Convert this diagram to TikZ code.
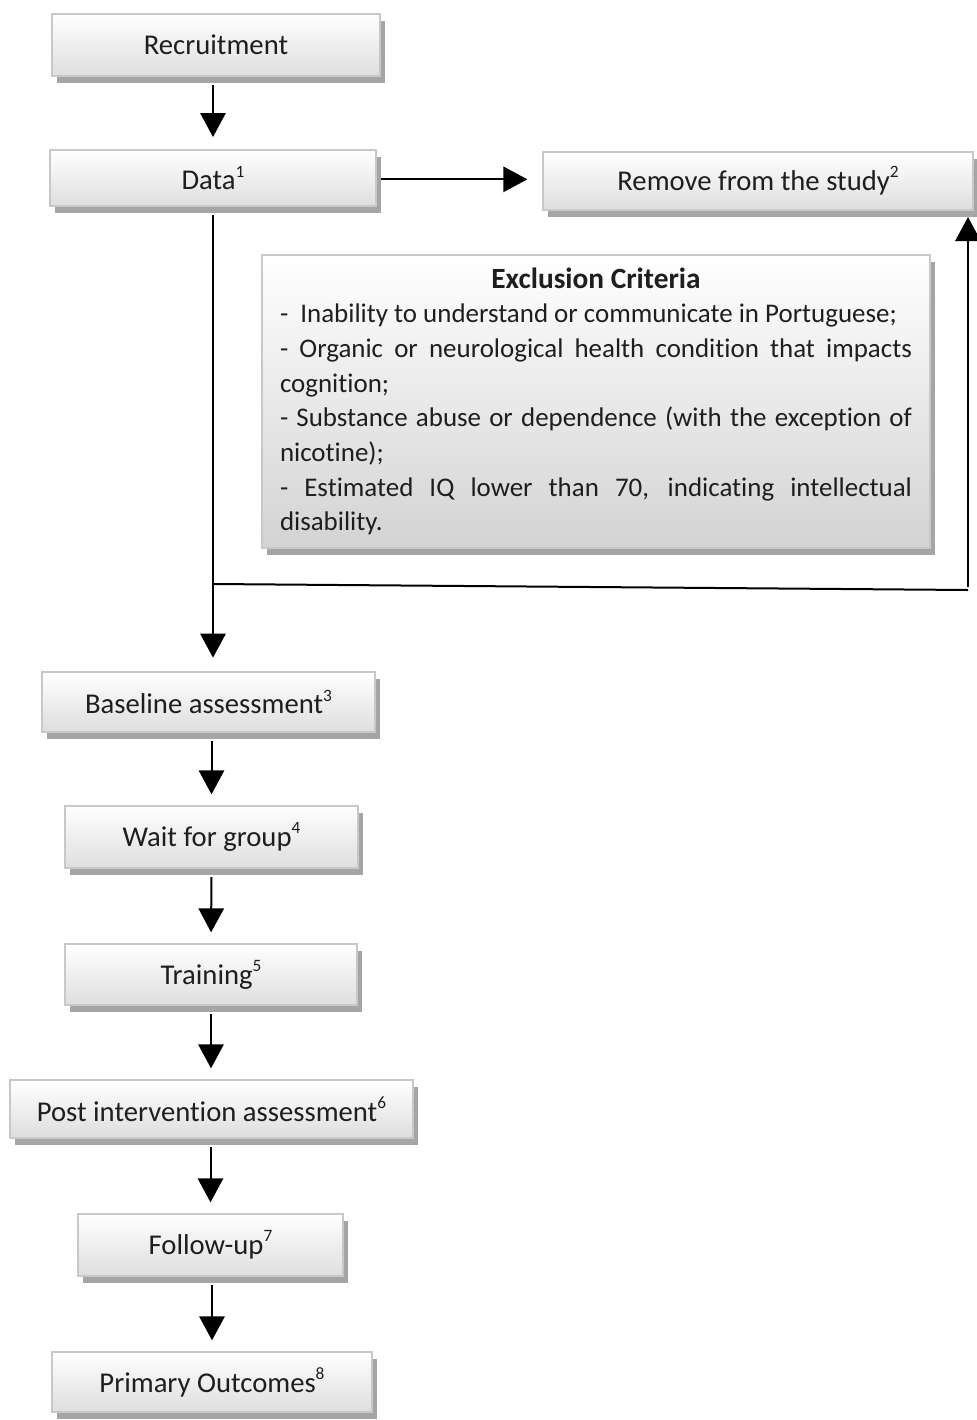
\documentclass[tikz,border=0pt]{standalone}
\usepackage{fontspec}
\setmainfont{Carlito}[Ligatures=NoCommon]
\usetikzlibrary{arrows.meta,shadows}

\definecolor{boxline}{RGB}{200,200,200}
\definecolor{boxshade}{RGB}{222,222,222}
\definecolor{boxshadow}{RGB}{165,165,165}
\definecolor{inktext}{RGB}{30,30,30}

\newcommand{\supnum}[1]{\raisebox{0.45em}{\fontsize{13}{13}\selectfont #1}}

\tikzset{
  flowbox/.style={draw=boxline, line width=1.5pt, top color=white, bottom color=boxshade,
    text=inktext, inner sep=0pt, font=\fontsize{21.5}{26}\selectfont,
    drop shadow={shadow xshift=3.5pt, shadow yshift=-5pt, fill=boxshadow, opacity=1}},
  flowarrow/.style={line width=1.5pt, -{Triangle[width=19pt,length=18pt]}},
  flowline/.style={line width=1.5pt}
}

\begin{document}
\begin{tikzpicture}[x=0.75pt,y=0.75pt,yscale=-1,xscale=1]
    \useasboundingbox (0,0) rectangle (976,1420);
    % Boxes
    \node (recruit) at (216,45) [flowbox, minimum width=246pt, minimum height=46.5pt] {Recruitment};
    \node (data) at (213,178) [flowbox, minimum width=244.5pt, minimum height=42pt] {Data\supnum{1}};
    \node (remove) at (758,181) [flowbox, minimum width=322.5pt, minimum height=43.5pt] {Remove from the study\supnum{2}};
    \node (excl) at (596,401.5) [flowbox, bottom color=boxshade!95!black, minimum width=501pt, minimum height=219.75pt, text width=474pt, align=justify,
      font=\fontsize{20.2}{26}\selectfont] {%
      \hyphenpenalty=10000\relax\exhyphenpenalty=10000\relax
      {\centering\fontsize{22}{26}\selectfont\bfseries Exclusion Criteria\par}
      -\ \ Inability to understand or communicate in Portuguese;\par
      - Organic or neurological health condition that impacts cognition;\par
      - Substance abuse or dependence (with the exception of nicotine);\par
      - Estimated IQ lower than 70, indicating intellectual disability.\par};
    \node (base) at (208.5,702) [flowbox, minimum width=249.75pt, minimum height=45pt] {Baseline assessment\supnum{3}};
    \node (wait) at (211.5,837) [flowbox, minimum width=219.75pt, minimum height=46.5pt] {Wait for group\supnum{4}};
    \node (train) at (211,974.5) [flowbox, minimum width=219pt, minimum height=45.75pt] {Training\supnum{5}};
    \node (post) at (211.5,1109) [flowbox, minimum width=302.25pt, minimum height=43.5pt] {Post intervention assessment\supnum{6}};
    \node (follow) at (210.5,1245) [flowbox, minimum width=198.75pt, minimum height=46.5pt] {Follow-up\supnum{7}};
    \node (primary) at (212,1382) [flowbox, minimum width=240pt, minimum height=45pt] {Primary Outcomes\supnum{8}};

    % Connectors
    \coordinate (branch) at (213,584);
    \coordinate (corner) at (968,590);
    \draw [flowarrow, shorten <=6pt, shorten >=9pt] (recruit.south -| data.north) -- (data.north);
    \draw [flowarrow, shorten <=3pt, shorten >=11pt] ([yshift=1pt]data.east) -- ([yshift=1pt]data.east -| remove.west);
    \draw [flowarrow, shorten <=6pt, shorten >=10pt] (data.south) -- (data.south |- base.north);
    \draw [flowline] (branch) -- (corner);
    \draw [flowarrow, shorten >=4.5pt] ([yshift=-2pt]corner) -- (corner |- remove.south);
    \draw [flowarrow, shorten <=6pt, shorten >=8pt] (base.south -| wait.north) -- (wait.north);
    \draw [flowarrow, shorten <=6pt, shorten >=8pt] (wait.south) -- (train.north);
    \draw [flowarrow, shorten <=6pt, shorten >=8pt] (train.south) -- (train.south |- post.north);
    \draw [flowarrow, shorten <=6pt, shorten >=8pt] (post.south -| follow.north) -- (follow.north);
    \draw [flowarrow, shorten <=6pt, shorten >=8pt] (follow.south -| primary.north) -- (primary.north);
\end{tikzpicture}
\end{document}
